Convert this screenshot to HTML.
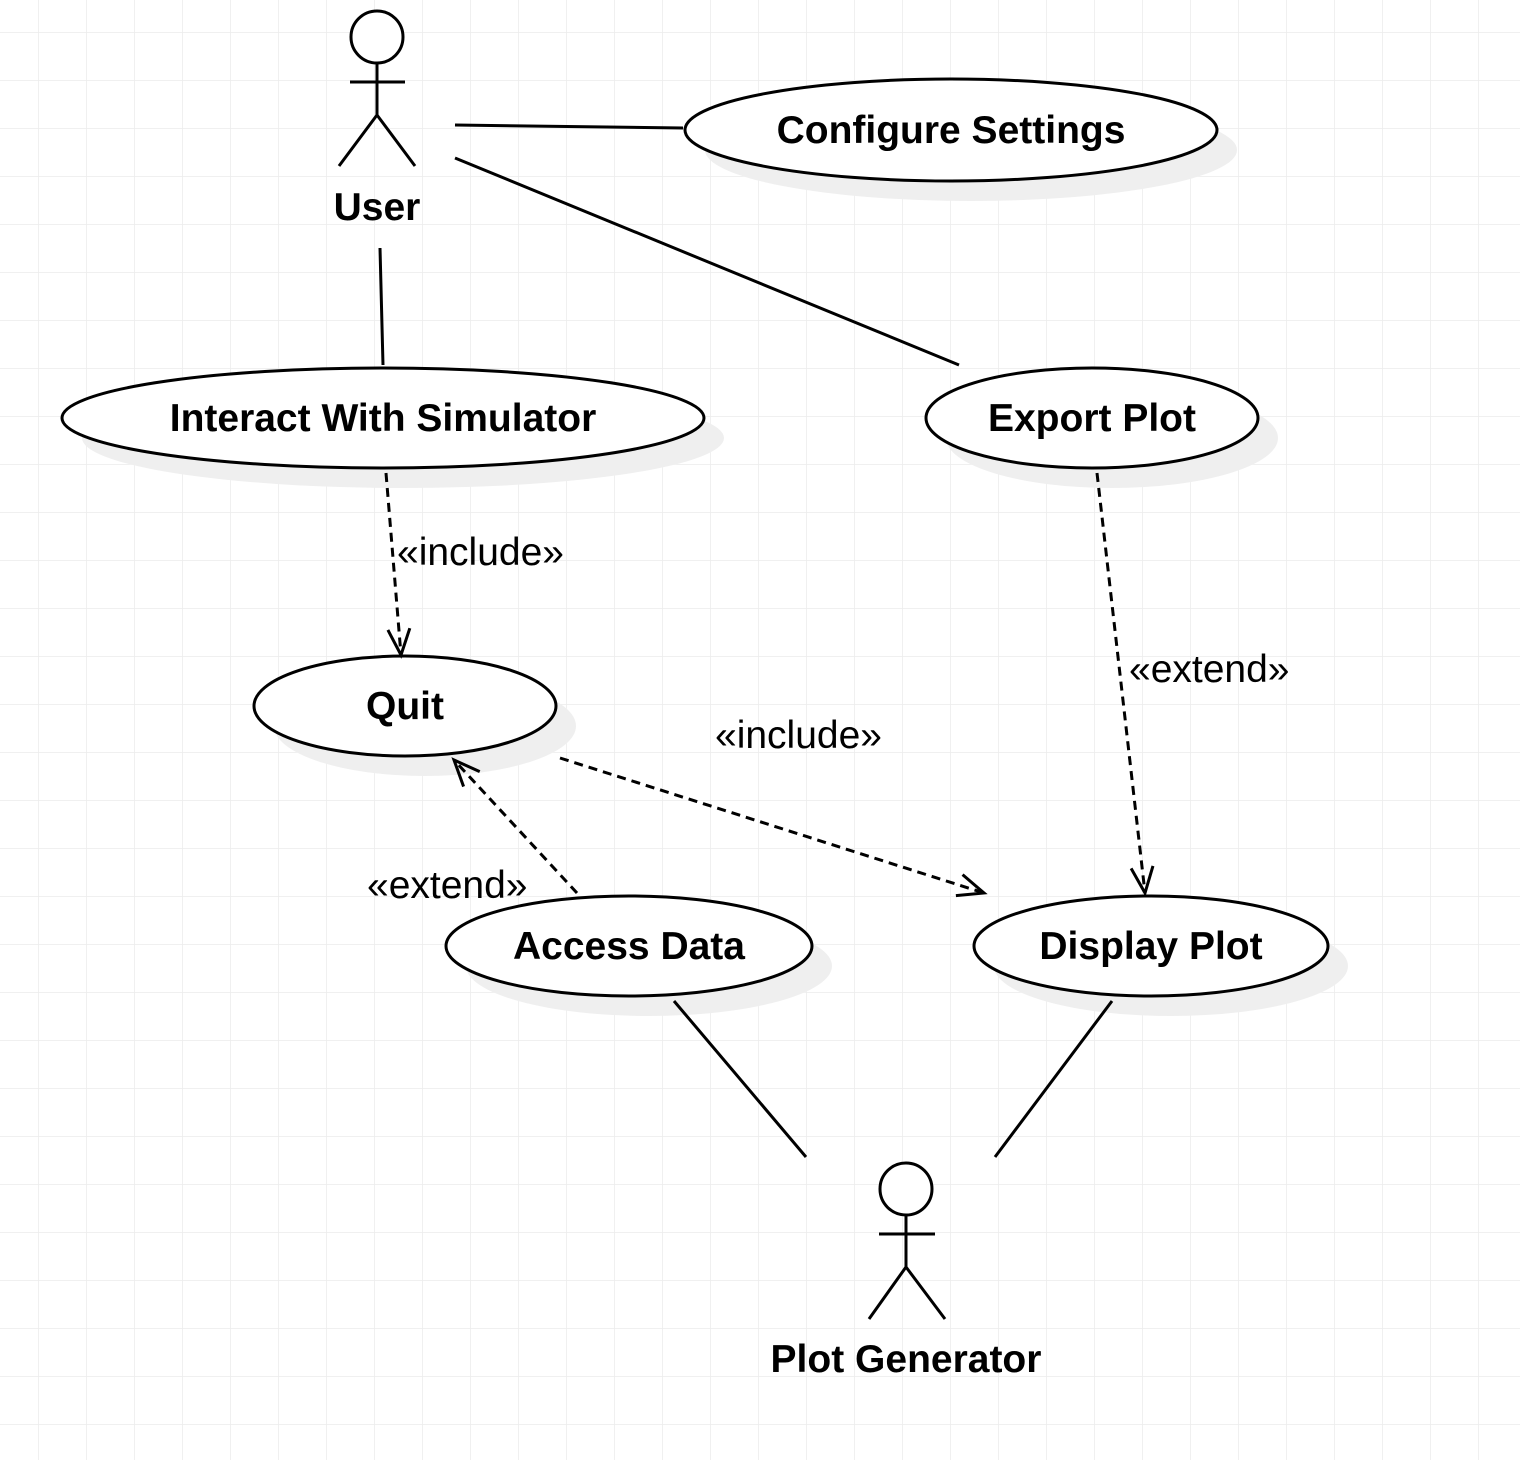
<!DOCTYPE html>
<html><head><meta charset="utf-8"><style>
html,body{margin:0;padding:0;background:#fff}
svg{display:block}
text{font-family:"Liberation Sans",Arial,sans-serif;fill:#000}
.b{font-weight:bold;font-size:39px}
.n{font-size:39px}
</style></head><body>
<svg width="1520" height="1460" viewBox="0 0 1520 1460" xmlns="http://www.w3.org/2000/svg">
<defs>
<pattern id="g" x="38" y="32" width="48" height="48" patternUnits="userSpaceOnUse">
<path d="M0 0H48M0 0V48" stroke="#ececec" stroke-width="1.5" fill="none"/>
</pattern>
<marker id="a" markerUnits="userSpaceOnUse" markerWidth="40" markerHeight="40" refX="30" refY="15" orient="auto">
<path d="M4 4 L30 15 L4 26" fill="none" stroke="#000" stroke-width="3"/>
</marker>
</defs>
<rect width="1520" height="1460" fill="url(#g)"/>

<g fill="#efefef">
<ellipse cx="971" cy="150" rx="266" ry="51"/>
<ellipse cx="403" cy="438" rx="321" ry="50"/>
<ellipse cx="1112" cy="438" rx="166" ry="50"/>
<ellipse cx="425" cy="726" rx="151" ry="50"/>
<ellipse cx="649" cy="966" rx="183" ry="50"/>
<ellipse cx="1171" cy="966" rx="177" ry="50"/>
</g>
<g fill="#fff" stroke="#000" stroke-width="3">
<ellipse cx="951" cy="130" rx="266" ry="51"/>
<ellipse cx="383" cy="418" rx="321" ry="50"/>
<ellipse cx="1092" cy="418" rx="166" ry="50"/>
<ellipse cx="405" cy="706" rx="151" ry="50"/>
<ellipse cx="629" cy="946" rx="183" ry="50"/>
<ellipse cx="1151" cy="946" rx="177" ry="50"/>
</g>

<g stroke="#000" stroke-width="3" fill="none">
<circle cx="377" cy="37" r="26" fill="#fff"/>
<path d="M377 63V115M350 82H405M377 115L339 166M377 115L415 166"/>
<circle cx="906" cy="1189" r="26" fill="#fff"/>
<path d="M906 1215V1267M879 1234H935M906 1267L869 1319M906 1267L945 1319"/>
<path d="M455 125L683 128M455 158L959 365M380 248L383 365M674 1001L806 1157M1112 1001L995 1157"/>
</g>
<g stroke="#000" stroke-width="3" fill="none" stroke-dasharray="9 6">
<path d="M386 473L401 655" marker-end="url(#a)"/>
<path d="M1097 473L1145 893" marker-end="url(#a)"/>
<path d="M560 758L984 893" marker-end="url(#a)"/>
<path d="M577 893L454 760" marker-end="url(#a)"/>
</g>

<g class="b" text-anchor="middle">
<text x="951" y="143">Configure Settings</text>
<text x="383" y="431">Interact With Simulator</text>
<text x="1092" y="431">Export Plot</text>
<text x="405" y="719">Quit</text>
<text x="629" y="959">Access Data</text>
<text x="1151" y="959">Display Plot</text>
<text x="377" y="220">User</text>
<text x="906" y="1372">Plot Generator</text>
</g>
<g class="n">
<text x="397" y="565">«include»</text>
<text x="1129" y="682">«extend»</text>
<text x="715" y="748">«include»</text>
<text x="367" y="898">«extend»</text>
</g>
</svg>
</body></html>
